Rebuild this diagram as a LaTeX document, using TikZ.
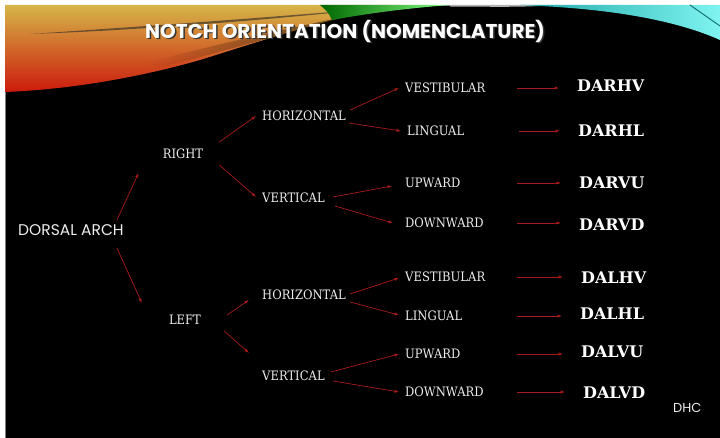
\documentclass[tikz,border=0pt]{standalone}
\usepackage{fontspec}
\setmainfont{DejaVu Serif}
\newfontfamily\slab[FakeStretch=0.89]{DejaVu Serif}
\newfontfamily\gothic{Poppins}
\usepackage[dvipsnames]{xcolor}
\usetikzlibrary{arrows.meta}
\usetikzlibrary{fadings}
\definecolor{arrowred}{HTML}{A81A1A}
\definecolor{offwhite}{HTML}{EDEDED}
\definecolor{warmtop}{HTML}{D6B548}
\definecolor{warmmid}{HTML}{D2651C}
\definecolor{warmbot}{HTML}{CC1A0C}
\definecolor{tealdark}{HTML}{1FA8A8}
\definecolor{teallight}{HTML}{7FF4F0}
\tikzset{>={Latex[length=4.5pt,width=3.2pt]}}

\begin{document}
\begin{tikzpicture}[x=1pt, y=-1pt,
	lbl/.style={text=offwhite, inner sep=0pt, font=\slab\fontsize{13}{13}\selectfont},
	tier/.style={lbl, anchor=west},
	code/.style={text=white, inner sep=0pt, anchor=west, font=\bfseries\fontsize{16}{16}\selectfont},
	arr/.style={->, draw=arrowred, line width=0.7pt}]
	\useasboundingbox (0,0) rectangle (720,438);
	% slide background
	\fill[white] (0,0) rectangle (720,438);
	\fill[black] (5,5) rectangle (720,438);
	\draw[gray, line width=0.8pt] (5,438) -- (5,5) -- (720,5);
	% swooshes on top
	\shade[top color=warmtop, middle color=warmmid, bottom color=warmbot]
		(5,5) -- (400,5) .. controls (330,18) and (270,38) .. (200,60)
		.. controls (130,80) and (60,90) .. (5,92) -- cycle;
	\fill[black, path fading=west, opacity=0.7]
		(150,70) .. controls (230,50) and (300,28) .. (400,5)
		.. controls (320,22) and (240,38) .. (150,62) -- cycle;
	\fill[black!85, opacity=0.6] (30,34) .. controls (120,28) and (250,19) .. (380,8)
		.. controls (250,22) and (120,31) .. (30,34) -- cycle;
	\shade[left color=green!40!black, right color=green!50!white]
		(320,5) -- (450,5) .. controls (410,8) and (370,13) .. (332,20)
		.. controls (328,12) .. (320,5) -- cycle;
	\fill[gray!60] (450,5) -- (560,5) .. controls (520,7) .. (450,6.5) -- cycle;
	\shade[left color=tealdark, right color=teallight]
		(520,5) -- (720,5) -- (720,40) .. controls (680,22) and (620,10) .. (540,6) -- cycle;
	\draw[tealdark!70!black, line width=1pt] (690,5) -- (720,26);

	% title
	\node (ttlsh) at (346.5,32.5) [text=black!80, font=\gothic\bfseries\fontsize{20}{20}\selectfont] {NOTCH ORIENTATION (NOMENCLATURE)};
	\node (ttl) at (345,31) [text=white, font=\gothic\bfseries\fontsize{20}{20}\selectfont] {NOTCH ORIENTATION (NOMENCLATURE)};

	% root and sides
	\node (da) at (18,230) [anchor=west, inner sep=0pt, text=offwhite, font=\gothic\fontsize{15.5}{15.5}\selectfont] {DORSAL ARCH};
	\node (rgt) at (183,154) [lbl] {RIGHT};
	\node (lft) at (185,320) [lbl] {LEFT};

	\node (rh) at (262,116) [tier] {HORIZONTAL};
	\node (rv) at (262,198) [tier] {VERTICAL};
	\node (lh) at (262,295) [tier] {HORIZONTAL};
	\node (lv) at (262,376) [tier] {VERTICAL};

	\node (rhv) at (405,88) [tier] {VESTIBULAR};
	\node (rhl) at (407,131) [tier] {LINGUAL};
	\node (rvu) at (405,183) [tier] {UPWARD};
	\node (rvd) at (405,223) [tier] {DOWNWARD};
	\node (lhv) at (405,277) [tier] {VESTIBULAR};
	\node (lhl) at (405,316) [tier] {LINGUAL};
	\node (lvu) at (405,354) [tier] {UPWARD};
	\node (lvd) at (405,392) [tier] {DOWNWARD};

	\node (c1) at (577,86) [code] {DARHV};
	\node (c2) at (578,131) [code] {DARHL};
	\node (c3) at (579,183) [code] {DARVU};
	\node (c4) at (579,225) [code] {DARVD};
	\node (c5) at (581,278) [code] {DALHV};
	\node (c6) at (580,314) [code] {DALHL};
	\node (c7) at (581,352) [code] {DALVU};
	\node (c8) at (583,393) [code] {DALVD};

	\node (dhc) at (673,408) [anchor=west, inner sep=0pt, text=offwhite, font=\gothic\fontsize{13}{13}\selectfont] {DHC};

	% arrows
	\draw[arr] ([shift={(-7,-10)}]da.east) -- ([shift={(-24,19)}]rgt.west);
	\draw[arr] ([shift={(-7,18)}]da.east) -- ([shift={(-27,-17)}]lft.west);
	\draw[arr] ([shift={(16,-12)}]rgt.east) -- ([shift={(-6,0)}]rh.west);
	\draw[arr] ([shift={(16,11)}]rgt.east) -- ([shift={(-6,-1)}]rv.west);
	\draw[arr] ([shift={(26,-5)}]lft.east) -- ([shift={(-13,5)}]lh.west);
	\draw[arr] ([shift={(23,11)}]lft.east) -- ([shift={(-13,-23)}]lv.west);

	\draw[arr] ([shift={(4,-6)}]rh.east) -- ([shift={(-6,0)}]rhv.west);
	\draw[arr] ([shift={(3,7)}]rh.east) -- ([shift={(-6,0)}]rhl.west);
	\draw[arr] ([shift={(8,-1)}]rv.east) -- ([shift={(-13,3)}]rvu.west);
	\draw[arr] ([shift={(10,8)}]rv.east) -- ([shift={(-12,0)}]rvd.west);
	\draw[arr] ([shift={(4,-1)}]lh.east) -- ([shift={(-6,1)}]lhv.west);
	\draw[arr] ([shift={(4,7)}]lh.east) -- ([shift={(-6,-1)}]lhl.west);
	\draw[arr] ([shift={(6,-4)}]lv.east) -- ([shift={(-6,0)}]lvu.west);
	\draw[arr] ([shift={(8,5)}]lv.east) -- ([shift={(-6,0)}]lvd.west);

	\foreach \lf/\cd in {rhv/c1, rhl/c2, rvu/c3, rvd/c4, lhv/c5, lhl/c6, lvu/c7, lvd/c8}
		\draw[arr, shorten <=112pt, shorten >=18pt] (\lf.west) -- (\cd.west |- \lf.west);
\end{tikzpicture}
\end{document}
